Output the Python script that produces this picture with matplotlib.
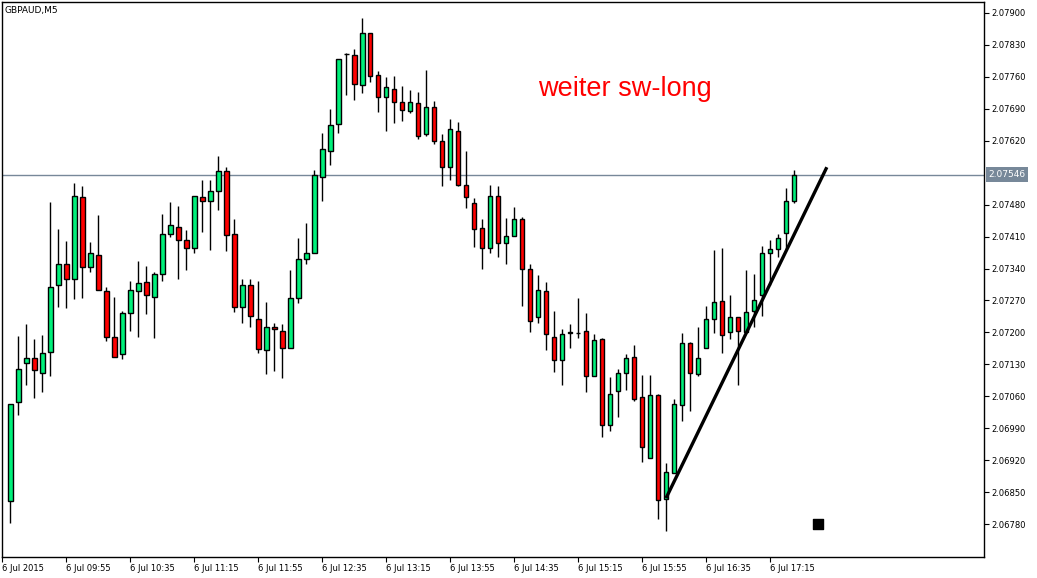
import matplotlib
matplotlib.use("Agg")
import matplotlib.pyplot as plt
import matplotlib.transforms as mtransforms
import numpy as np

# ---- data ----
opens = [2.06830, 2.07047, 2.07134, 2.07145, 2.07112, 2.07158, 2.07305, 2.07349, 2.07316, 2.07496,
         2.07343, 2.07369, 2.07290, 2.07191, 2.07152, 2.07242, 2.07290, 2.07310, 2.07277, 2.07329,
         2.07415, 2.07430, 2.07402, 2.07386, 2.07496, 2.07489, 2.07509, 2.07553, 2.07415, 2.07255,
         2.07303, 2.07229, 2.07161, 2.07213, 2.07204, 2.07167, 2.07275, 2.07362, 2.07375, 2.07540,
         2.07597, 2.07656, 2.07809, 2.07807, 2.07742, 2.07856, 2.07763, 2.07715, 2.07733, 2.07704,
         2.07685, 2.07702, 2.07634, 2.07693, 2.07619, 2.07562, 2.07641, 2.07522, 2.07483, 2.07428,
         2.07384, 2.07500, 2.07397, 2.07411, 2.07448, 2.07338, 2.07233, 2.07290, 2.07191, 2.07139,
         2.07198, 2.07199, 2.07204, 2.07104, 2.07185, 2.06998, 2.07071, 2.07112, 2.07147, 2.07058,
         2.06924, 2.07062, 2.06836, 2.06893, 2.07042, 2.07176, 2.07110, 2.07167, 2.07229, 2.07268,
         2.07200, 2.07233, 2.07202, 2.07246, 2.07281, 2.07375, 2.07382, 2.07417, 2.07487]
highs = [2.07044, 2.07192, 2.07218, 2.07185, 2.07194, 2.07486, 2.07427, 2.07400, 2.07527, 2.07521,
         2.07398, 2.07457, 2.07299, 2.07277, 2.07248, 2.07312, 2.07356, 2.07345, 2.07332, 2.07459,
         2.07486, 2.07477, 2.07424, 2.07500, 2.07535, 2.07533, 2.07587, 2.07562, 2.07448, 2.07318,
         2.07318, 2.07312, 2.07266, 2.07220, 2.07218, 2.07336, 2.07408, 2.07439, 2.07557, 2.07636,
         2.07690, 2.07799, 2.07812, 2.07820, 2.07888, 2.07856, 2.07772, 2.07759, 2.07761, 2.07739,
         2.07731, 2.07726, 2.07774, 2.07706, 2.07634, 2.07667, 2.07660, 2.07597, 2.07494, 2.07448,
         2.07522, 2.07520, 2.07450, 2.07474, 2.07452, 2.07349, 2.07325, 2.07310, 2.07248, 2.07207,
         2.07218, 2.07275, 2.07242, 2.07196, 2.07187, 2.07102, 2.07121, 2.07152, 2.07172, 2.07106,
         2.07106, 2.07066, 2.06913, 2.07055, 2.07198, 2.07180, 2.07213, 2.07259, 2.07380, 2.07384,
         2.07283, 2.07233, 2.07336, 2.07327, 2.07389, 2.07402, 2.07415, 2.07516, 2.07555]
lows = [2.06782, 2.07019, 2.07085, 2.07057, 2.07070, 2.07105, 2.07256, 2.07254, 2.07274, 2.07276,
        2.07333, 2.07292, 2.07182, 2.07147, 2.07142, 2.07204, 2.07190, 2.07241, 2.07188, 2.07313,
        2.07410, 2.07318, 2.07337, 2.07375, 2.07421, 2.07381, 2.07469, 2.07379, 2.07245, 2.07220,
        2.07211, 2.07154, 2.07110, 2.07115, 2.07101, 2.07167, 2.07264, 2.07349, 2.07373, 2.07489,
        2.07567, 2.07638, 2.07721, 2.07710, 2.07725, 2.07748, 2.07682, 2.07642, 2.07658, 2.07663,
        2.07680, 2.07623, 2.07630, 2.07612, 2.07520, 2.07533, 2.07520, 2.07472, 2.07388, 2.07340,
        2.07375, 2.07366, 2.07350, 2.07411, 2.07258, 2.07201, 2.07220, 2.07162, 2.07114, 2.07085,
        2.07166, 2.07188, 2.07069, 2.07104, 2.06972, 2.06985, 2.07014, 2.07073, 2.07049, 2.06917,
        2.06924, 2.06792, 2.06764, 2.06893, 2.07007, 2.07027, 2.07104, 2.07167, 2.07198, 2.07156,
        2.07185, 2.07084, 2.07202, 2.07211, 2.07237, 2.07304, 2.07366, 2.07382, 2.07483]
closes = [2.07044, 2.07121, 2.07145, 2.07117, 2.07156, 2.07299, 2.07349, 2.07318, 2.07498, 2.07343,
          2.07373, 2.07294, 2.07191, 2.07147, 2.07242, 2.07292, 2.07308, 2.07281, 2.07329, 2.07415,
          2.07435, 2.07402, 2.07386, 2.07498, 2.07489, 2.07509, 2.07553, 2.07413, 2.07255, 2.07303,
          2.07237, 2.07163, 2.07213, 2.07207, 2.07167, 2.07275, 2.07362, 2.07375, 2.07544, 2.07603,
          2.07654, 2.07799, 2.07809, 2.07744, 2.07856, 2.07761, 2.07715, 2.07737, 2.07704, 2.07687,
          2.07704, 2.07630, 2.07693, 2.07619, 2.07562, 2.07645, 2.07522, 2.07496, 2.07426, 2.07384,
          2.07498, 2.07397, 2.07411, 2.07448, 2.07338, 2.07226, 2.07292, 2.07196, 2.07139, 2.07196,
          2.07202, 2.07199, 2.07104, 2.07183, 2.06998, 2.07066, 2.07112, 2.07145, 2.07055, 2.06948,
          2.07062, 2.06832, 2.06895, 2.07044, 2.07176, 2.07112, 2.07143, 2.07229, 2.07266, 2.07194,
          2.07233, 2.07204, 2.07244, 2.07270, 2.07373, 2.07382, 2.07408, 2.07487, 2.07546]

symbol = "GBPAUD,M5"
current_price = 2.07546
y_ticks = [2.06780, 2.06850, 2.06920, 2.06990, 2.07060, 2.07130, 2.07200, 2.07270,
           2.07340, 2.07410, 2.07480, 2.07620, 2.07690, 2.07760, 2.07830, 2.07900]
x_tick_idx = [-1, 7, 15, 23, 31, 39, 47, 55, 63, 71, 79, 87, 95]
x_tick_labels = ["6 Jul 2015", "6 Jul 09:55", "6 Jul 10:35", "6 Jul 11:15", "6 Jul 11:55",
                 "6 Jul 12:35", "6 Jul 13:15", "6 Jul 13:55", "6 Jul 14:35", "6 Jul 15:15",
                 "6 Jul 15:55", "6 Jul 16:35", "6 Jul 17:15"]
trend_x = [82.0, 102.1]
trend_y = [2.06837, 2.07562]
square_x = [101.0]
square_y = [2.06780]
note_text = "weiter sw-long"
note_x, note_y = 66.0, 2.07733

# ---- drawing ----
W, H = 1037, 578
fig = plt.figure(figsize=(W / 100, H / 100), dpi=100)
ax = fig.add_axes([2 / W, (H - 557) / H, (984 - 2) / W, (557 - 2) / H])

n = len(opens)
x = np.arange(n)
o = np.array(opens); c = np.array(closes); h = np.array(highs); l = np.array(lows)
up = c >= o
bull = "#00F07A"
bear = "#FF0000"

ax.vlines(x, l, h, color="black", lw=1.0, zorder=2)
bottom = np.minimum(o, c)
height = np.abs(c - o)
colors = [bull if u else bear for u in up]
ax.bar(x, height, bottom=bottom, width=0.6, color=colors, edgecolor="black",
       linewidth=1.0, zorder=3)

ax.axhline(current_price, color="#778899", lw=1.0, zorder=1)

ax.plot(trend_x, trend_y, color="black", lw=2.4, zorder=4, solid_capstyle="butt")
ax.scatter(square_x, square_y, marker="s", s=50, color="black", zorder=5)

ax.text(note_x, note_y, note_text, color="#FF0000", fontsize=19.5,
        family="Liberation Sans", ha="left", va="center")

ax.set_xlim(-1.02, (984 - 10) / 8)
ax.set_ylim(2.06708, 2.07924)

ax.yaxis.tick_right()
ax.set_yticks(y_ticks)
ax.set_yticklabels([f"{v:.5f}" for v in y_ticks])
ax.set_xticks(x_tick_idx)
ax.set_xticklabels(x_tick_labels, ha="left")
ax.tick_params(axis="both", direction="out", length=3.5, width=0.8, labelsize=6,
               colors="black", pad=1.5)
for sp in ax.spines.values():
    sp.set_color("black")
    sp.set_linewidth(1.0)

trans = mtransforms.blended_transform_factory(ax.transAxes, ax.transData)
ax.text(1.0045, current_price, f"{current_price:.5f}", transform=trans, ha="left",
        va="center", fontsize=6.5, color="white",
        bbox=dict(boxstyle="square,pad=0.3", facecolor="#778899", edgecolor="none"))

ax.text(0.003, 0.993, symbol, transform=ax.transAxes, fontsize=6.5, ha="left", va="top")

fig.savefig("out.png", dpi=100)
